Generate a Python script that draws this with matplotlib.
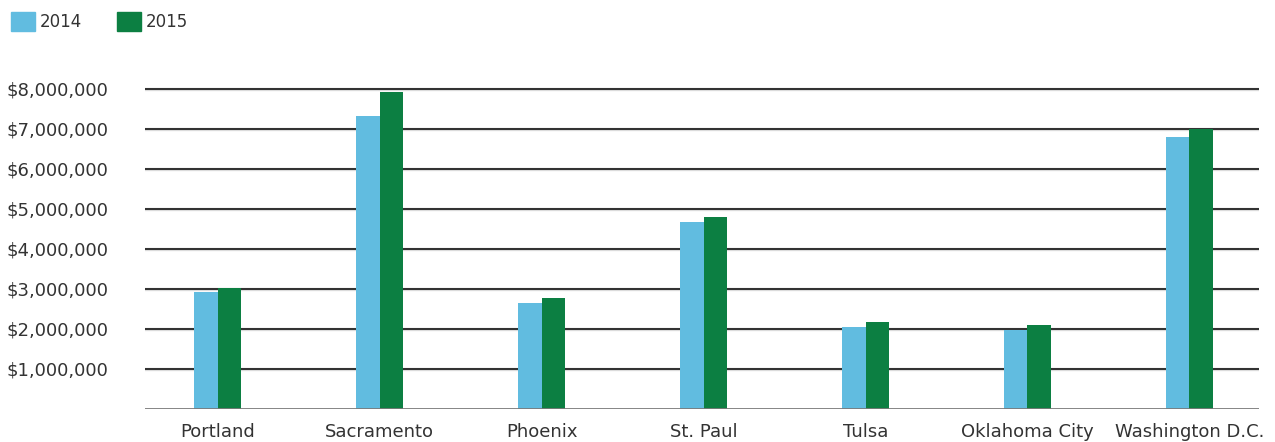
import numpy as np
import matplotlib
matplotlib.use("Agg")
import matplotlib.pyplot as plt
from matplotlib.ticker import FuncFormatter
from matplotlib.patches import Rectangle

cities = ["Portland", "Sacramento", "Phoenix", "St. Paul", "Tulsa", "Oklahoma City", "Washington D.C."]
vals_2014 = [2925000, 7325000, 2650000, 4675000, 2050000, 1980000, 6800000]
vals_2015 = [3025000, 7925000, 2775000, 4800000, 2175000, 2100000, 7000000]
y_ticks = [1000000, 2000000, 3000000, 4000000, 5000000, 6000000, 7000000, 8000000]

blue = "#61BCE0"
green = "#0C7F42"
txt = "#333333"

plt.rcParams['font.family'] = ['DejaVu Sans']

fig = plt.figure(figsize=(12.75, 4.42), dpi=100)
ax = fig.add_axes([0.1137, 0.0747, 0.8738, 0.7285])

x = np.arange(len(cities))
w = 0.146
ax.bar(x - w / 2, vals_2014, width=w, color=blue, zorder=3)
ax.bar(x + w / 2, vals_2015, width=w, color=green, zorder=3)

# gridlines with a faint shadow underneath
for t in y_ticks:
    ax.axhline(t, color="#333333", lw=1.5, zorder=2)
    ax.axhline(t - 25000, color="#e3e3e3", lw=1.0, zorder=1)
ax.axhline(0, color="#7a7a7a", lw=2.0, zorder=4)

ax.set_xlim(-0.45, 6.43)
ax.set_ylim(0, 8050000)
ax.set_yticks(y_ticks)
ax.yaxis.set_major_formatter(FuncFormatter(lambda v, p: "${:,.0f}".format(v)))
ax.set_xticks(x)
ax.set_xticklabels(cities)
ax.tick_params(axis="y", length=0, pad=26.5, labelsize=13, labelcolor=txt)
ax.tick_params(axis="x", length=0, pad=10, labelsize=13, labelcolor=txt)
for s in ax.spines.values():
    s.set_visible(False)

# legend drawn by hand in figure coordinates
for x0, col, lab in [(11, blue, "2014"), (117, green, "2015")]:
    fig.patches.append(Rectangle((x0 / 1275, 1 - 30.5 / 442), 24 / 1275, 19 / 442,
                                 transform=fig.transFigure, color=col))
    fig.text((x0 + 29) / 1275, 1 - 22 / 442, lab, fontsize=12, color=txt, va="center")

fig.savefig("out.png", dpi=100)
